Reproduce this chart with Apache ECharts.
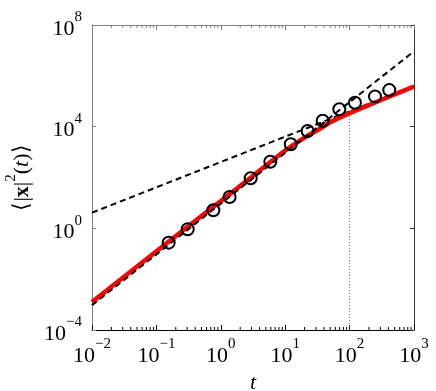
<!DOCTYPE html>
<html>
<head>
<meta charset="utf-8">
<script src="https://cdn.jsdelivr.net/npm/echarts@6/dist/echarts.min.js"></script>
<style>
  html, body { margin: 0; padding: 0; background: #fff; }
  #chart { width: 436px; height: 391px; }
</style>
</head>
<body>
<div id="chart"></div>
<script>
// simulation points (circles)
const circleT = [0.155, 0.306, 0.766, 1.37, 2.91, 5.87, 12.2, 22.3, 38.2, 69.2, 121, 248, 413];
const circleMsd = [0.273, 0.918, 5.13, 17.1, 93, 419, 2030, 6760, 17200, 48300, 87700, 155000, 275000];

// theory curve (red)
const curveT = [0.01, 0.1, 1, 3, 10, 20, 35, 50, 100, 200, 400, 1000];
const curveMsd = [1.25e-3, 0.125, 12, 105, 1150, 3700, 8500, 15000, 34000, 71000, 147000, 380000];

// asymptotes (dashed)
const ballisticT = [0.01, 1000];
const ballisticMsd = [9.5e-4, 9.2e6];
const diffusiveT = [0.01, 1000];
const diffusiveMsd = [4.13, 4.0e5];

// crossover marker (dotted)
const markT = [100, 100];
const markMsd = [1e-4, 34000];

const xTicks = [-2, -1, 0, 1, 2, 3];
const yTicks = [-4, 0, 4, 8];

const minorX = [];
for (let e = xTicks[0]; e < xTicks[xTicks.length - 1]; e++) {
  for (let k = 2; k <= 9; k++) minorX.push([k * Math.pow(10, e), 1]);
}

const font = 'Liberation Serif';
const powRich = {
  b: { fontFamily: font, fontSize: 22, lineHeight: 30, verticalAlign: 'bottom', color: '#000' },
  s: { fontFamily: font, fontSize: 15, lineHeight: 15, verticalAlign: 'top', color: '#000' }
};
function powLabel(v) {
  const e = Math.round(Math.log10(v));
  return '{b|10}{s|' + String(e).replace('-', '\u2212') + '}';
}

const pair = (xs, ys) => xs.map((x, i) => [x, ys[i]]);

const chart = echarts.init(document.getElementById('chart'));
chart.setOption({
  animation: false,
  grid: { left: 92, top: 25, right: 22, bottom: 61, outerBoundsMode: 'none', containLabel: false },
  xAxis: [
    {
      type: 'log', logBase: 10, min: 0.01, max: 1000,
      name: 't', nameLocation: 'middle', nameGap: 31,
      nameTextStyle: { fontFamily: font, fontSize: 22, fontStyle: 'italic', color: '#000' },
      axisLine: { lineStyle: { color: '#000', width: 1 } },
      axisTick: { inside: true, length: 5, lineStyle: { color: '#000' } },
      axisLabel: { formatter: powLabel, rich: powRich, margin: 7 },
      splitLine: { show: false }
    },
    {
      type: 'log', logBase: 10, min: 0.01, max: 1000, position: 'top',
      axisLine: { lineStyle: { color: '#808080', width: 1 } },
      axisTick: { inside: true, length: 5, lineStyle: { color: '#808080' } },
      axisLabel: { show: false },
      splitLine: { show: false }
    }
  ],
  yAxis: [
    {
      type: 'log', logBase: 10, min: 1e-4, max: 1e8, interval: 4,
      name: '{n|\u27e8|}{bx|x}{n||}{sup|2}{n|(}{it|t}{n|)\u27e9}', nameLocation: 'middle', nameGap: 48, nameRotate: 90,
      nameTextStyle: {
        fontFamily: font, fontSize: 22, color: '#000',
        rich: {
          n: { fontFamily: font, fontSize: 22, lineHeight: 30, verticalAlign: 'bottom', color: '#000' },
          bx: { fontFamily: font, fontSize: 22, fontWeight: 'bold', lineHeight: 30, verticalAlign: 'bottom', color: '#000' },
          sup: { fontFamily: font, fontSize: 15, lineHeight: 17, verticalAlign: 'top', color: '#000' },
          it: { fontFamily: font, fontSize: 22, fontStyle: 'italic', lineHeight: 30, verticalAlign: 'bottom', color: '#000' }
        }
      },
      axisLine: { lineStyle: { color: '#808080', width: 1 } },
      axisTick: { inside: true, length: 4, lineStyle: { color: '#808080' } },
      axisLabel: { formatter: powLabel, rich: powRich, margin: 10 },
      splitLine: { show: false }
    },
    {
      type: 'log', logBase: 10, min: 1e-4, max: 1e8, interval: 4, position: 'right',
      axisLine: { lineStyle: { color: '#333', width: 1 } },
      axisTick: { inside: true, length: 4, lineStyle: { color: '#333' } },
      axisLabel: { show: false },
      splitLine: { show: false }
    }
  ],
  series: [
    {
      type: 'custom', silent: true, clip: false, z: 1,
      data: minorX,
      renderItem: function (params, api) {
        const v = api.value(0);
        const b = api.coord([v, 1e-4]);
        const t = api.coord([v, 1e8]);
        return {
          type: 'group',
          children: [
            { type: 'line', shape: { x1: b[0], y1: b[1], x2: b[0], y2: b[1] - 3 }, style: { stroke: '#000', lineWidth: 1 } },
            { type: 'line', shape: { x1: t[0], y1: t[1], x2: t[0], y2: t[1] + 3 }, style: { stroke: '#808080', lineWidth: 1 } }
          ]
        };
      }
    },
    {
      type: 'line', data: pair(markT, markMsd), symbol: 'none', silent: true, z: 2,
      lineStyle: { color: '#777', width: 1, type: [1, 2] }
    },
    {
      type: 'line', data: pair(diffusiveT, diffusiveMsd), symbol: 'none', silent: true, z: 2,
      lineStyle: { color: '#000', width: 2, type: [6, 4] }
    },
    {
      type: 'line', data: pair(curveT, curveMsd), symbol: 'none', smooth: 0.3, silent: true, z: 3,
      lineStyle: { color: '#ff0000', width: 4.5 }
    },
    {
      type: 'line', data: pair(ballisticT, ballisticMsd), symbol: 'none', silent: true, z: 4,
      lineStyle: { color: '#000', width: 2, type: [6, 4] }
    },
    {
      type: 'scatter', data: pair(circleT, circleMsd), symbol: 'circle', symbolSize: 12, z: 5,
      itemStyle: { color: 'rgba(0,0,0,0)', borderColor: '#000', borderWidth: 2, opacity: 1 }
    }
  ]
});
</script>
</body>
</html>
